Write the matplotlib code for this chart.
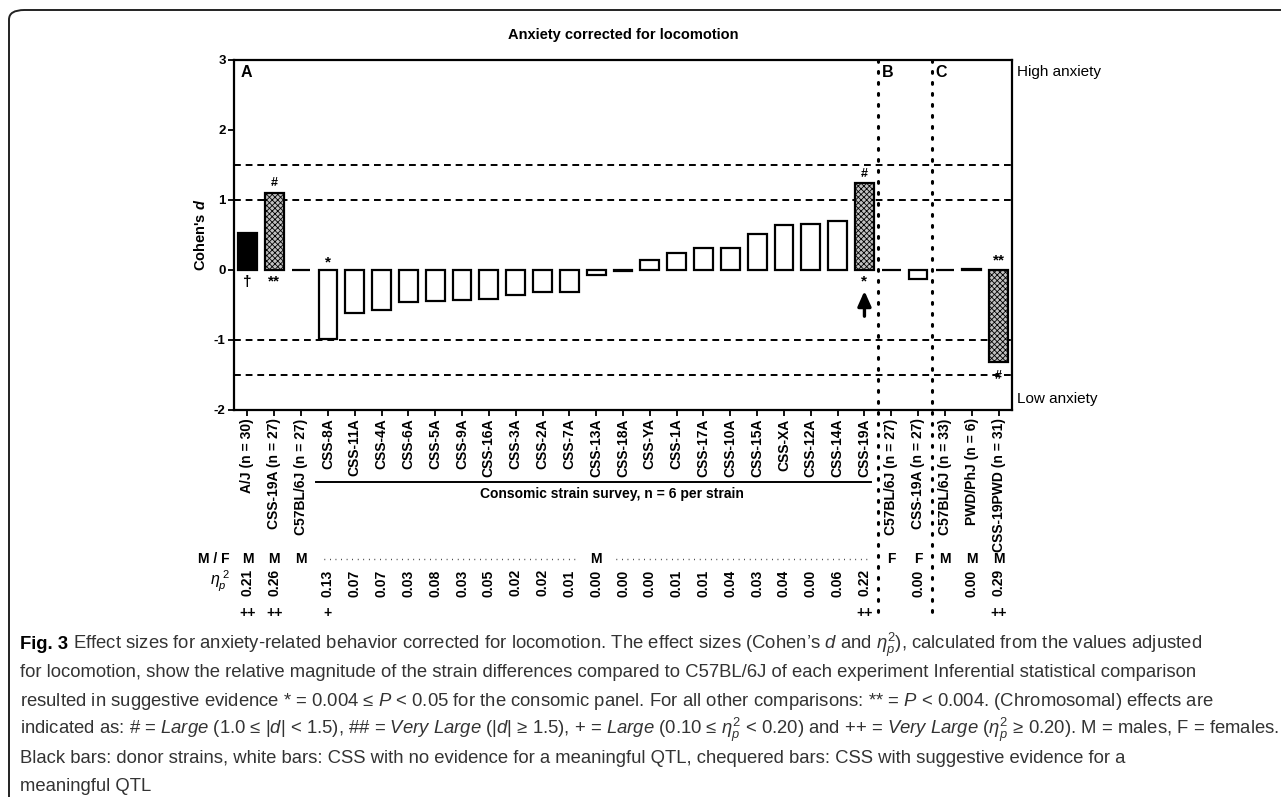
import matplotlib
matplotlib.use("Agg")
from matplotlib import pyplot as plt
from matplotlib.patches import FancyBboxPatch
import numpy as np

plt.rcParams['font.family'] = ['Liberation Sans', 'DejaVu Sans']
plt.rcParams['hatch.linewidth'] = 0.6
plt.rcParams['mathtext.fontset'] = 'custom'
plt.rcParams['mathtext.rm'] = 'Liberation Sans'
plt.rcParams['mathtext.it'] = 'Liberation Sans:italic'
plt.rcParams['mathtext.bf'] = 'Liberation Sans:bold'
try:
    plt.rcParams['mathtext.bfit'] = 'Liberation Sans:italic:bold'
except KeyError:
    pass

# strains, values
strains = ["A/J (n = 30)", "CSS-19A (n = 27)", "C57BL/6J (n = 27)",
           "CSS-8A", "CSS-11A", "CSS-4A", "CSS-6A", "CSS-5A", "CSS-9A", "CSS-16A",
           "CSS-3A", "CSS-2A", "CSS-7A", "CSS-13A", "CSS-18A", "CSS-YA", "CSS-1A",
           "CSS-17A", "CSS-10A", "CSS-15A", "CSS-XA", "CSS-12A", "CSS-14A", "CSS-19A",
           "C57BL/6J (n = 27)", "CSS-19A (n = 27)",
           "C57BL/6J (n = 33)", "PWD/PhJ (n = 6)", "CSS-19PWD (n = 31)"]
cohen_d = [0.53, 1.10, 0.0,
           -0.99, -0.62, -0.57, -0.46, -0.44, -0.43, -0.41, -0.35, -0.32, -0.31,
           -0.07, -0.01, 0.14, 0.25, 0.31, 0.32, 0.51, 0.64, 0.66, 0.70, 1.25,
           0.0, -0.13,
           0.0, 0.02, -1.32]
# 'b' donor (black), 'w' white, 'c' chequered
bar_type = ["b", "c", "w"] + ["w"] * 20 + ["c"] + ["w", "w"] + ["w", "w", "c"]
sex = ["M", "M", "M", "", "", "", "", "", "", "", "", "", "", "M", "", "", "", "",
       "", "", "", "", "", "", "F", "F", "M", "M", "M"]
eta = ["0.21", "0.26", "", "0.13", "0.07", "0.07", "0.03", "0.08", "0.03", "0.05",
       "0.02", "0.02", "0.01", "0.00", "0.00", "0.00", "0.01", "0.01", "0.04", "0.03",
       "0.04", "0.00", "0.06", "0.22", "", "0.00", "", "0.00", "0.29"]
eta_mark = {0: "++", 1: "++", 3: "+", 23: "++", 28: "++"}

W, H = 1281, 797
fig = plt.figure(figsize=(W / 100, H / 100), dpi=100)

def fx(x):
    return x / W

def fy(y):
    return 1 - y / H

ax = fig.add_axes([fx(234), fy(410), fx(1012) - fx(234), fy(60) - fy(410)])
x = np.arange(len(strains))

for i, (v, t) in enumerate(zip(cohen_d, bar_type)):
    if t == "b":
        ax.bar(i, v, 0.7, color="black", edgecolor="black", linewidth=1.6, zorder=3)
    elif t == "c":
        ax.bar(i, v, 0.7, color="#c0c0c0", edgecolor="black", hatch="xxxxxx",
               linewidth=1.6, zorder=3)
    else:
        ax.bar(i, v, 0.7, color="white", edgecolor="black", linewidth=1.6, zorder=3)

for yy in [1.5, 1, -1, -1.5]:
    ax.axhline(yy, color="black", lw=1.4, ls=(0, (3.5, 2.5)), zorder=2)

ax.set_xlim(-0.5, 28.5)
ax.set_ylim(-2, 3)
ax.set_yticks([-2, -1, 0, 1, 2, 3])
ax.set_yticklabels(["-2", "-1", "0", "1", "2", "3"], fontsize=9.5, fontweight="bold")
ax.set_xticks(x)
ax.set_xticklabels(strains, rotation=90, fontsize=10, fontweight="bold")
ax.tick_params(axis="both", length=4, width=1.3, pad=2)
for s in ax.spines.values():
    s.set_linewidth(1.6)
ax.set_ylabel("Cohen's $\\mathbfit{d}$", fontsize=10.5, fontweight="bold", labelpad=4)

# panel separators
for xs in [23.5, 25.5]:
    ax.plot([xs, xs], [3, -5], color="black", lw=2.2, ls=(0, (0.6, 3.0)),
            dash_capstyle="round", clip_on=False, zorder=4)

ax.text(-0.25, 2.93, "A", fontsize=11.5, fontweight="bold", va="top", ha="left")
ax.text(23.65, 2.93, "B", fontsize=11.5, fontweight="bold", va="top", ha="left")
ax.text(25.65, 2.93, "C", fontsize=11.5, fontweight="bold", va="top", ha="left")
ax.set_title("Anxiety corrected for locomotion", fontsize=10.5, fontweight="bold", pad=15)

# significance marks
ann_kw = dict(ha="center", va="center", fontweight="bold", fontsize=11)
ax.text(0, -0.17, "†", **ann_kw)
ax.text(1, -0.16, "**", **ann_kw)
ax.text(1, 1.24, "#", fontweight="bold", fontsize=9, ha="center", va="center")
ax.text(3, 0.11, "*", **ann_kw)
ax.text(23, 1.37, "#", fontweight="bold", fontsize=9, ha="center", va="center")
ax.text(23, -0.17, "*", **ann_kw)
ax.annotate("", xy=(23, -0.26), xytext=(23, -0.7),
            arrowprops=dict(arrowstyle="-|>,head_width=0.4,head_length=0.9",
                            color="black", lw=2.4))
ax.text(28, 0.13, "**", **ann_kw)
ax.text(28, -1.52, "#", fontweight="bold", fontsize=9, ha="center", va="center")

ax.text(28.7, 2.83, "High anxiety", fontsize=11, ha="left", va="center")
ax.text(28.7, -1.85, "Low anxiety", fontsize=11, ha="left", va="center")

# consomic survey bracket
ax.plot([2.57, 23.26], [-3.03, -3.03], color="black", lw=1.4, clip_on=False)
ax.text(13.57, -3.2, "Consomic strain survey, n = 6 per strain", fontsize=10,
        fontweight="bold", ha="center", va="center")

# rows underneath
ax.text(-0.65, -4.13, "M / F", fontsize=10, fontweight="bold", ha="right", va="center")
ax.text(-0.65, -4.45, "$\\eta_p^{\\ 2}$", fontsize=11.5, ha="right", va="center")
for i in x:
    if sex[i]:
        ax.text(i, -4.13, sex[i], fontsize=10, fontweight="bold", ha="center", va="center")
    if eta[i]:
        ax.text(i, -4.47, eta[i], fontsize=10, fontweight="bold", rotation=90,
                ha="center", va="center")
    if i in eta_mark:
        ax.text(i, -4.9, eta_mark[i], fontsize=10, fontweight="bold", ha="center",
                va="center")
for x0, x1 in [(2.87, 12.2), (13.75, 23.1)]:
    ax.plot([x0, x1], [-4.13, -4.13], color="black", lw=1.0, ls=(0, (0.5, 3.5)),
            clip_on=False)

# outer frame of the figure box
frame = FancyBboxPatch((fx(9), fy(900)), fx(1500), fy(10) - fy(900),
                       boxstyle="round,pad=0,rounding_size=0.012",
                       transform=fig.transFigure, fill=False, lw=1.4,
                       edgecolor="#222222", clip_on=False)
fig.patches.append(frame)

# caption
cap_col = "#333333"
lines = [
    "Effect sizes for anxiety-related behavior corrected for locomotion. The effect sizes (Cohen’s $\\mathit{d}$ and $\\mathit{\\eta}_{\\mathit{p}}^{2}$), calculated from the values adjusted",
    "for locomotion, show the relative magnitude of the strain differences compared to C57BL/6J of each experiment Inferential statistical comparison",
    "resulted in suggestive evidence * = 0.004 ≤ $\\mathit{P}$ < 0.05 for the consomic panel. For all other comparisons: ** = $\\mathit{P}$ < 0.004. (Chromosomal) effects are",
    "indicated as: # = $\\mathit{Large}$ (1.0 ≤ |$\\mathit{d}$| < 1.5), ## = $\\mathit{Very\\ Large}$ (|$\\mathit{d}$| ≥ 1.5), + = $\\mathit{Large}$ (0.10 ≤ $\\mathit{\\eta}_{\\mathit{p}}^{2}$ < 0.20) and ++ = $\\mathit{Very\\ Large}$ ($\\mathit{\\eta}_{\\mathit{p}}^{2}$ ≥ 0.20). M = males, F = females.",
    "Black bars: donor strains, white bars: CSS with no evidence for a meaningful QTL, chequered bars: CSS with suggestive evidence for a",
    "meaningful QTL",
]
baselines = [649, 677, 706, 734, 763, 791]
lab = fig.text(fx(20), fy(baselines[0]), "Fig. 3", fontweight="bold", fontsize=12,
               color="black", ha="left", va="baseline")
cap_texts = [fig.text(fx(20), fy(yy), ln, fontsize=12, color=cap_col, ha="left",
                      va="baseline") for ln, yy in zip(lines, baselines)]

def place_caption():
    fig.canvas.draw()
    r = fig.canvas.get_renderer()
    bb = lab.get_window_extent(renderer=r)
    cap_texts[0].set_x(fx(bb.x1 + 5))
    fig.canvas.draw()
    return max(t.get_window_extent(renderer=r).x1 for t in cap_texts)

# fit the longest caption line to the width the reference uses
right = place_caption()
size = 12 * (1276 - 20) / (right - 20)
lab.set_fontsize(size)
for t in cap_texts:
    t.set_fontsize(size)
place_caption()

fig.savefig("out.png", dpi=100)
